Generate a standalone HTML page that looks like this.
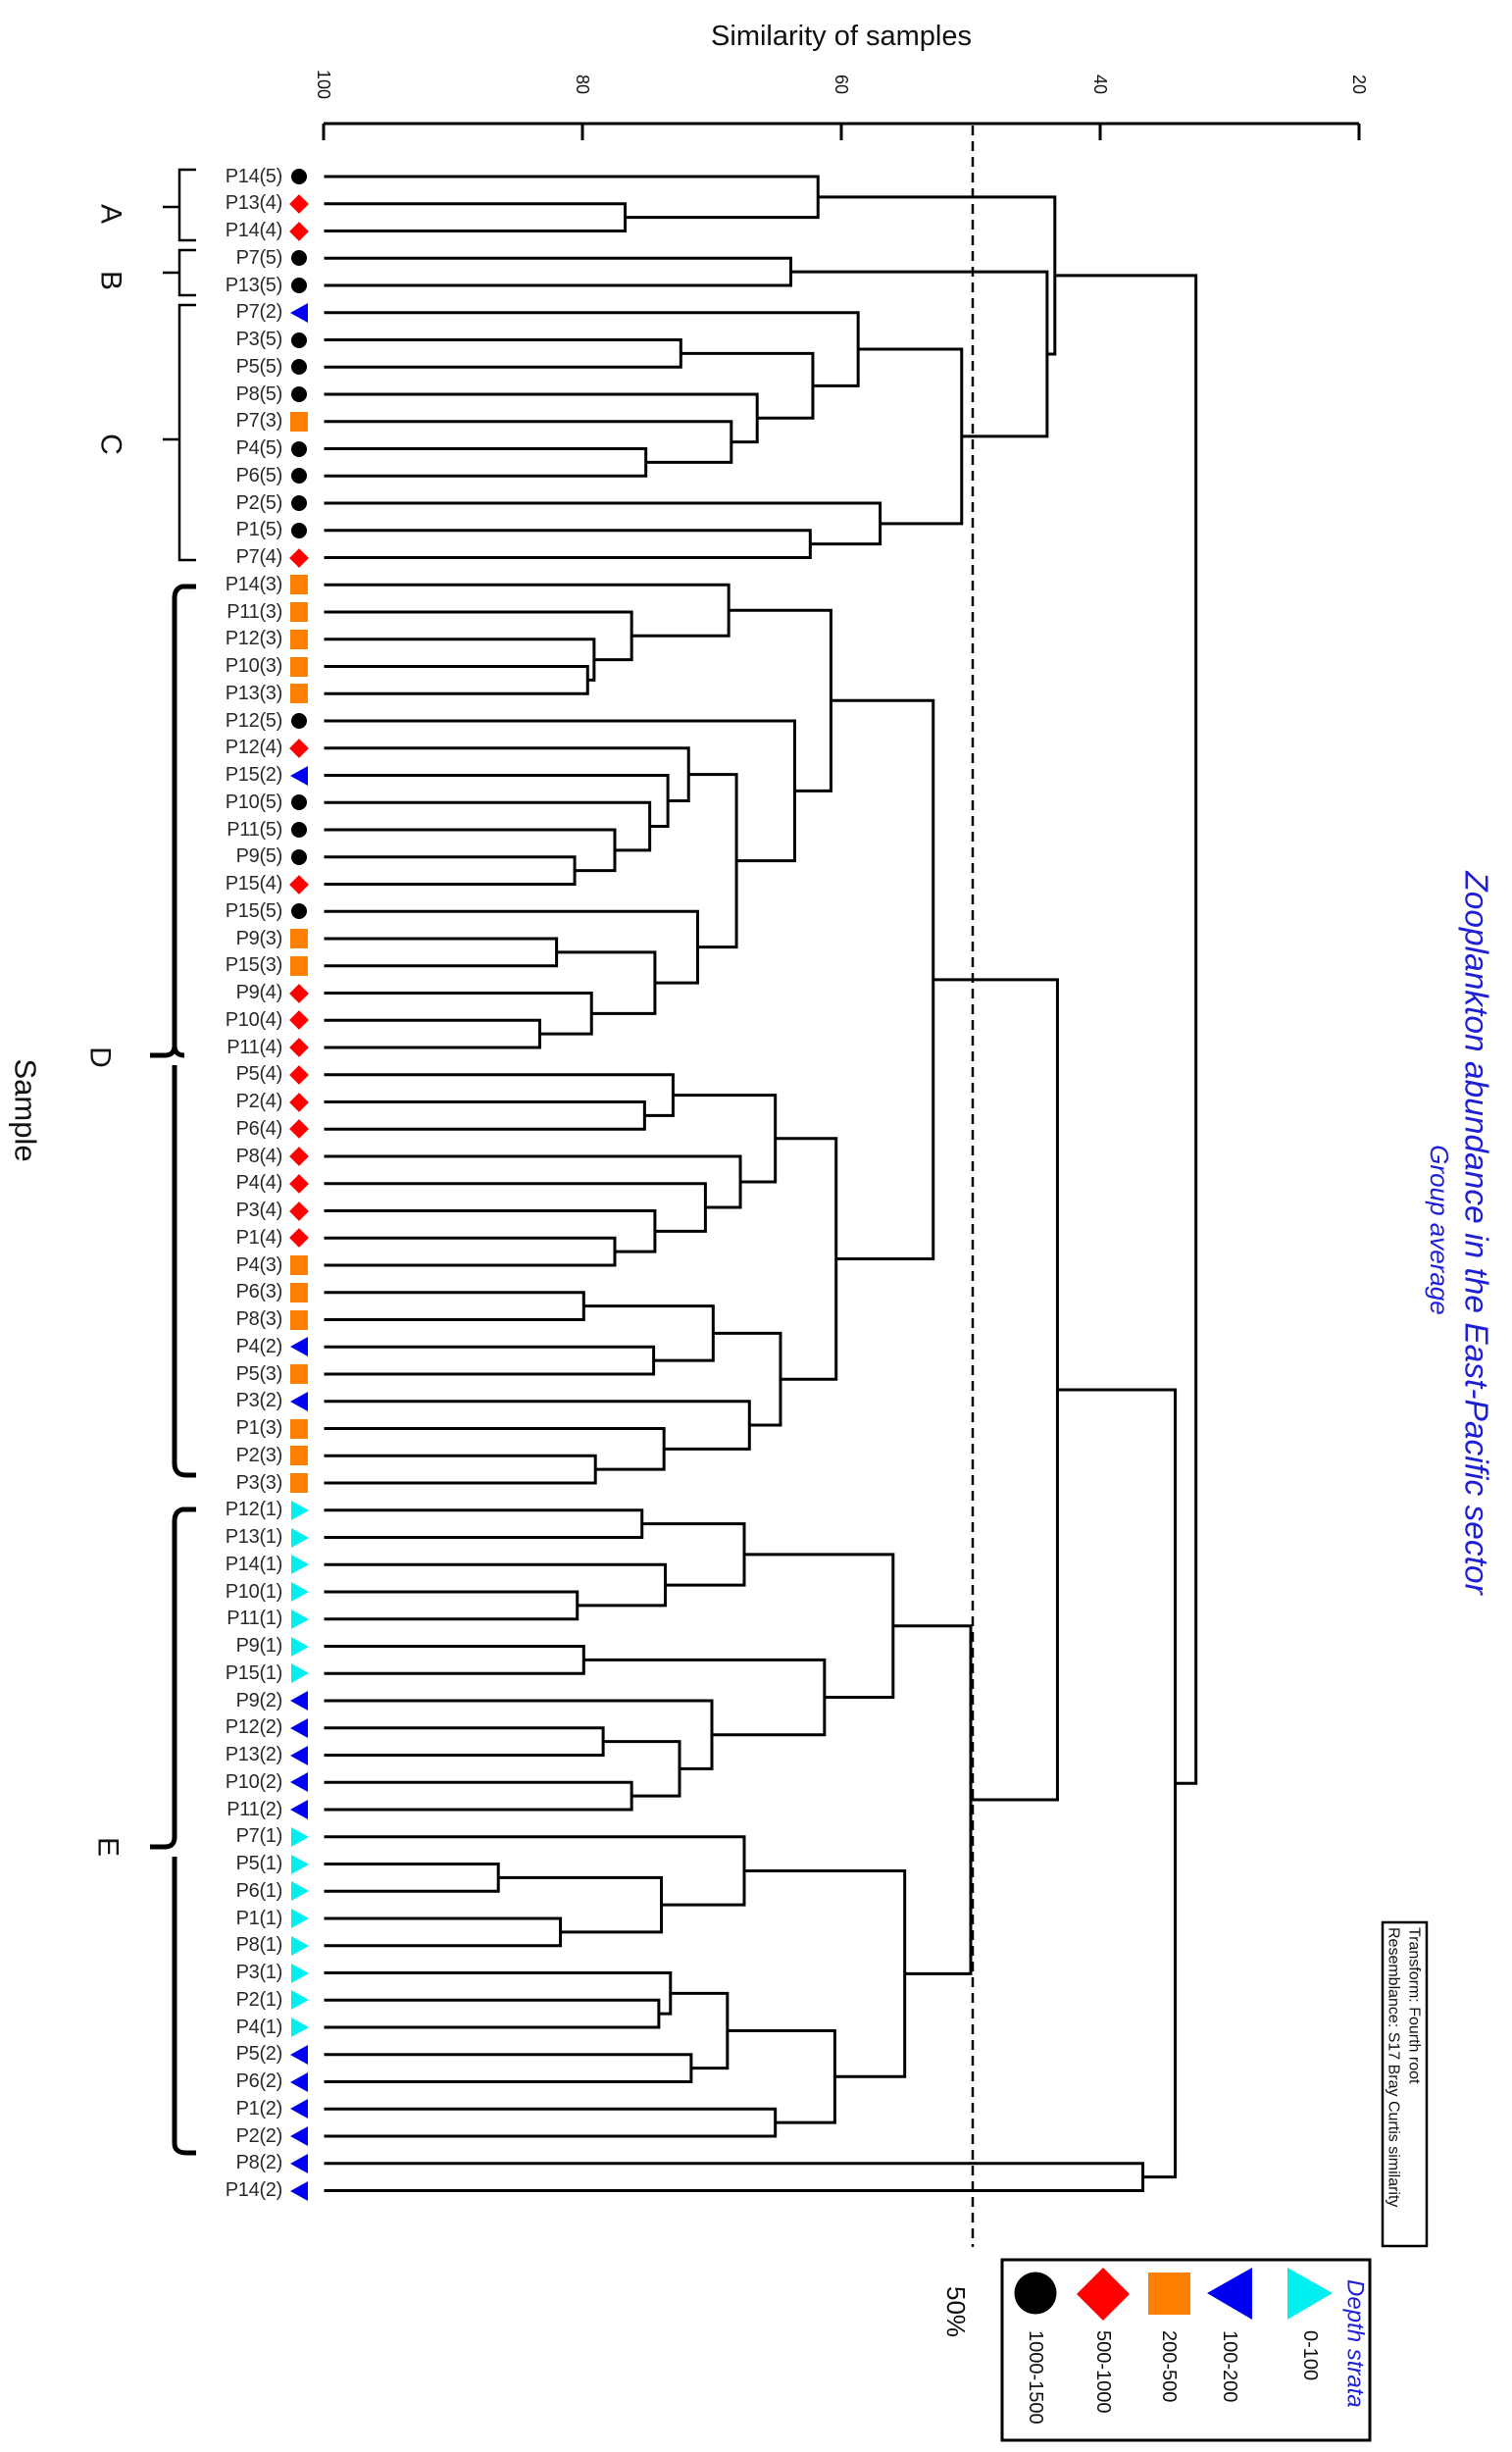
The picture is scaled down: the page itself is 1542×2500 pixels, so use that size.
<!DOCTYPE html>
<html><head><meta charset="utf-8">
<style>
html,body{margin:0;padding:0;background:#fff;}
body{width:1542px;height:2500px;position:relative;overflow:hidden;font-family:"Liberation Sans",sans-serif;}
svg{position:absolute;left:0;top:0;}
#rows{position:absolute;left:0;top:166.125px;width:315px;}
.r{height:27.75px;display:flex;align-items:center;justify-content:flex-end;}
.r span{font-size:20px;color:#2a2a2a;margin-right:7px;letter-spacing:-0.3px;}
.r i{display:block;width:20px;height:20px;position:relative;}
.c::after{content:"";position:absolute;left:2px;top:2px;width:16px;height:16px;border-radius:50%;background:#000;}
.d::after{content:"";position:absolute;left:3px;top:3px;width:14px;height:14px;background:#f00;transform:rotate(45deg);}
.s::after{content:"";position:absolute;left:1px;top:0;width:18px;height:20px;background:#ff7f00;}
.l::after{content:"";position:absolute;left:1px;top:0;width:0;height:0;border-top:10px solid transparent;border-bottom:10px solid transparent;border-right:18px solid #0000f0;}
.g::after{content:"";position:absolute;left:2px;top:0;width:0;height:0;border-top:10px solid transparent;border-bottom:10px solid transparent;border-left:18px solid #00f0f0;}
</style></head><body>
<svg id="sv" width="1542" height="2500" viewBox="0 0 1542 2500" font-family="Liberation Sans, sans-serif">
<text x="858" y="46" font-size="29" text-anchor="middle" fill="#111">Similarity of samples</text>
<g stroke="#000" stroke-width="3">
<line x1="330" y1="126" x2="1386" y2="126"/>
<line x1="330" y1="126" x2="330" y2="143"/>
<line x1="594" y1="126" x2="594" y2="143"/>
<line x1="858" y1="126" x2="858" y2="143"/>
<line x1="1122" y1="126" x2="1122" y2="143"/>
<line x1="1386" y1="126" x2="1386" y2="143"/>
</g>
<g font-size="18" fill="#111" text-anchor="middle">
<text transform="translate(330,86) rotate(90)" dominant-baseline="central">100</text>
<text transform="translate(594,86) rotate(90)" dominant-baseline="central">80</text>
<text transform="translate(858,86) rotate(90)" dominant-baseline="central">60</text>
<text transform="translate(1122,86) rotate(90)" dominant-baseline="central">40</text>
<text transform="translate(1386,86) rotate(90)" dominant-baseline="central">20</text>
</g>
<line x1="992" y1="128" x2="992" y2="2291" stroke="#000" stroke-width="2.5" stroke-dasharray="10,6"/>
<text transform="translate(975,2331) rotate(90)" font-size="26" dominant-baseline="central" fill="#111">50%</text>
<g stroke="#000" stroke-width="2.5" fill="none">
<path d="M200,173 H183 V245 H200 M183,211 H166"/>
<path d="M200,255 H183 V301 H200 M183,278 H166"/>
<path d="M200,311 H183 V571 H200 M183,448 H166"/>
</g>
<g stroke="#000" stroke-width="5" fill="none">
<path d="M200,598 H186 Q178,600 178,610 V1066 Q178,1076 168,1076 H153 M178,1066 Q178,1076 188,1076 M178,1086 V1492 Q178,1504 190,1504 H200"/>
<path d="M200,1539 H186 Q178,1541 178,1551 V1873 Q178,1883 168,1883 H153 M178,1893 V2185 Q178,2195 190,2195 H200"/>
</g>
<g font-size="30" fill="#111" text-anchor="middle">
<text transform="translate(113,218) rotate(90)" dominant-baseline="central">A</text>
<text transform="translate(113,286) rotate(90)" dominant-baseline="central">B</text>
<text transform="translate(113,453) rotate(90)" dominant-baseline="central">C</text>
<text transform="translate(102,1078) rotate(90)" dominant-baseline="central">D</text>
<text transform="translate(110,1883) rotate(90)" dominant-baseline="central">E</text>
<text transform="translate(26,1132) rotate(90)" dominant-baseline="central" font-size="31">Sample</text>
</g>
<g fill="#1f1fd6" font-style="italic" text-anchor="middle">
<text transform="translate(1505,1257) rotate(90)" font-size="33.5" dominant-baseline="central">Zooplankton abundance in the East-Pacific sector</text>
<text transform="translate(1468,1254) rotate(90)" font-size="26" dominant-baseline="central">Group average</text>
</g>
<rect x="1410" y="1960" width="45" height="330" fill="none" stroke="#000" stroke-width="2.5"/>
<g font-size="16" fill="#111">
<text transform="translate(1442,1965) rotate(90)" dominant-baseline="central">Transform: Fourth root</text>
<text transform="translate(1421,1965) rotate(90)" dominant-baseline="central">Resemblance: S17 Bray Curtis similarity</text>
</g>
<rect x="1022" y="2304" width="375" height="184" fill="none" stroke="#000" stroke-width="3"/>
<text transform="translate(1382,2324) rotate(90)" font-size="24" font-style="italic" fill="#1f1fd6" dominant-baseline="central">Depth strata</text>
<polygon points="1313,2312 1313,2365 1359,2338" fill="#00f0f0"/>
<polygon points="1277,2312 1277,2365 1231,2338" fill="#0000f0"/>
<rect x="1171" y="2317" width="43" height="43" fill="#ff7f00"/>
<polygon points="1125,2312 1152,2339 1125,2366 1098,2339" fill="#f00"/>
<circle cx="1056" cy="2338" r="21.5" fill="#000"/>
<g font-size="20" fill="#111">
<text transform="translate(1336,2376) rotate(90)" dominant-baseline="central">0-100</text>
<text transform="translate(1254,2376) rotate(90)" dominant-baseline="central">100-200</text>
<text transform="translate(1192,2376) rotate(90)" dominant-baseline="central">200-500</text>
<text transform="translate(1125,2376) rotate(90)" dominant-baseline="central">500-1000</text>
<text transform="translate(1056,2376) rotate(90)" dominant-baseline="central">1000-1500</text>
</g>
<g id="tree" stroke="#000" stroke-width="3" fill="none" stroke-linecap="square"></g>
</svg>
<div id="rows">
<div class="r"><span>P14(5)</span><i class="c"></i></div>
<div class="r"><span>P13(4)</span><i class="d"></i></div>
<div class="r"><span>P14(4)</span><i class="d"></i></div>
<div class="r"><span>P7(5)</span><i class="c"></i></div>
<div class="r"><span>P13(5)</span><i class="c"></i></div>
<div class="r"><span>P7(2)</span><i class="l"></i></div>
<div class="r"><span>P3(5)</span><i class="c"></i></div>
<div class="r"><span>P5(5)</span><i class="c"></i></div>
<div class="r"><span>P8(5)</span><i class="c"></i></div>
<div class="r"><span>P7(3)</span><i class="s"></i></div>
<div class="r"><span>P4(5)</span><i class="c"></i></div>
<div class="r"><span>P6(5)</span><i class="c"></i></div>
<div class="r"><span>P2(5)</span><i class="c"></i></div>
<div class="r"><span>P1(5)</span><i class="c"></i></div>
<div class="r"><span>P7(4)</span><i class="d"></i></div>
<div class="r"><span>P14(3)</span><i class="s"></i></div>
<div class="r"><span>P11(3)</span><i class="s"></i></div>
<div class="r"><span>P12(3)</span><i class="s"></i></div>
<div class="r"><span>P10(3)</span><i class="s"></i></div>
<div class="r"><span>P13(3)</span><i class="s"></i></div>
<div class="r"><span>P12(5)</span><i class="c"></i></div>
<div class="r"><span>P12(4)</span><i class="d"></i></div>
<div class="r"><span>P15(2)</span><i class="l"></i></div>
<div class="r"><span>P10(5)</span><i class="c"></i></div>
<div class="r"><span>P11(5)</span><i class="c"></i></div>
<div class="r"><span>P9(5)</span><i class="c"></i></div>
<div class="r"><span>P15(4)</span><i class="d"></i></div>
<div class="r"><span>P15(5)</span><i class="c"></i></div>
<div class="r"><span>P9(3)</span><i class="s"></i></div>
<div class="r"><span>P15(3)</span><i class="s"></i></div>
<div class="r"><span>P9(4)</span><i class="d"></i></div>
<div class="r"><span>P10(4)</span><i class="d"></i></div>
<div class="r"><span>P11(4)</span><i class="d"></i></div>
<div class="r"><span>P5(4)</span><i class="d"></i></div>
<div class="r"><span>P2(4)</span><i class="d"></i></div>
<div class="r"><span>P6(4)</span><i class="d"></i></div>
<div class="r"><span>P8(4)</span><i class="d"></i></div>
<div class="r"><span>P4(4)</span><i class="d"></i></div>
<div class="r"><span>P3(4)</span><i class="d"></i></div>
<div class="r"><span>P1(4)</span><i class="d"></i></div>
<div class="r"><span>P4(3)</span><i class="s"></i></div>
<div class="r"><span>P6(3)</span><i class="s"></i></div>
<div class="r"><span>P8(3)</span><i class="s"></i></div>
<div class="r"><span>P4(2)</span><i class="l"></i></div>
<div class="r"><span>P5(3)</span><i class="s"></i></div>
<div class="r"><span>P3(2)</span><i class="l"></i></div>
<div class="r"><span>P1(3)</span><i class="s"></i></div>
<div class="r"><span>P2(3)</span><i class="s"></i></div>
<div class="r"><span>P3(3)</span><i class="s"></i></div>
<div class="r"><span>P12(1)</span><i class="g"></i></div>
<div class="r"><span>P13(1)</span><i class="g"></i></div>
<div class="r"><span>P14(1)</span><i class="g"></i></div>
<div class="r"><span>P10(1)</span><i class="g"></i></div>
<div class="r"><span>P11(1)</span><i class="g"></i></div>
<div class="r"><span>P9(1)</span><i class="g"></i></div>
<div class="r"><span>P15(1)</span><i class="g"></i></div>
<div class="r"><span>P9(2)</span><i class="l"></i></div>
<div class="r"><span>P12(2)</span><i class="l"></i></div>
<div class="r"><span>P13(2)</span><i class="l"></i></div>
<div class="r"><span>P10(2)</span><i class="l"></i></div>
<div class="r"><span>P11(2)</span><i class="l"></i></div>
<div class="r"><span>P7(1)</span><i class="g"></i></div>
<div class="r"><span>P5(1)</span><i class="g"></i></div>
<div class="r"><span>P6(1)</span><i class="g"></i></div>
<div class="r"><span>P1(1)</span><i class="g"></i></div>
<div class="r"><span>P8(1)</span><i class="g"></i></div>
<div class="r"><span>P3(1)</span><i class="g"></i></div>
<div class="r"><span>P2(1)</span><i class="g"></i></div>
<div class="r"><span>P4(1)</span><i class="g"></i></div>
<div class="r"><span>P5(2)</span><i class="l"></i></div>
<div class="r"><span>P6(2)</span><i class="l"></i></div>
<div class="r"><span>P1(2)</span><i class="l"></i></div>
<div class="r"><span>P2(2)</span><i class="l"></i></div>
<div class="r"><span>P8(2)</span><i class="l"></i></div>
<div class="r"><span>P14(2)</span><i class="l"></i></div>
</div>
<script>
(function(){
var A=[61.8,0,[76.7,1,2]];
var B=[63.9,3,4];
var C1=[58.7,5,[62.2,[72.4,6,7],[66.5,8,[68.5,9,[75.1,10,11]]]]];
var C2=[57.0,12,[62.4,13,14]];
var C=[50.7,C1,C2];
var ABC=[43.5,A,[44.1,B,C]];
var D1a=[68.7,15,[76.2,16,[79.1,17,[79.6,18,19]]]];
var in6=[71.8,21,[73.4,22,[74.8,23,[77.5,24,[80.6,25,26]]]]];
var in12=[71.1,27,[74.4,[82.0,28,29],[79.3,30,[83.3,31,32]]]];
var D1b=[63.6,20,[68.1,in6,in12]];
var D1=[60.8,D1a,D1b];
var D2a=[65.1,[73.0,33,[75.2,34,35]],[67.8,36,[70.5,37,[74.4,38,[77.5,39,40]]]]];
var D2b=[64.7,[69.9,[79.9,41,42],[74.5,43,44]],[67.1,45,[73.7,46,[79.0,47,48]]]];
var D=[52.9,D1,[60.4,D2a,D2b]];
var E1=[56.0,[67.5,[75.4,49,50],[73.6,51,[80.4,52,53]]],[61.3,[79.9,54,55],[70.0,56,[72.5,[78.4,57,58],[76.2,59,60]]]]];
var E2=[55.1,[67.5,61,[73.9,[86.5,62,63],[81.7,64,65]]],[60.5,[68.8,[73.2,66,[74.1,67,68]],[71.6,69,70]],[65.1,71,72]]];
var E=[50.0,E1,E2];
var G=[34.2,[43.3,D,E],[36.7,73,74]];
var root=[32.6,ABC,G];
function X(s){return 330+(100-s)*13.2;}
var d="";
function walk(n){
 if(typeof n==="number"){return {x:332,y:180+27.75*n};}
 var a=walk(n[1]),b=walk(n[2]),x=X(n[0]);
 d+="M"+a.x+","+a.y+"H"+x+"V"+b.y+"H"+b.x;
 return {x:x,y:(a.y+b.y)/2};
}
walk(root);
var p=document.createElementNS("http://www.w3.org/2000/svg","path");
p.setAttribute("d",d);
document.getElementById("tree").appendChild(p);
})();
</script>
</body></html>
